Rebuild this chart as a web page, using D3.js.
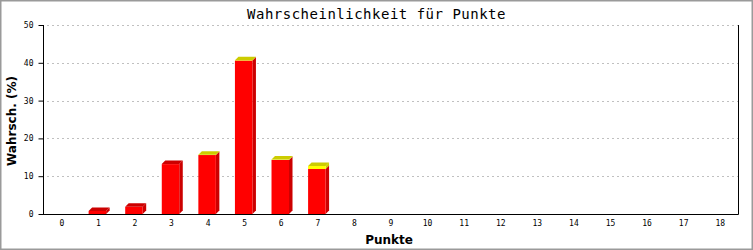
<!DOCTYPE html>
<html>
<head>
<meta charset="utf-8">
<script src="https://cdn.jsdelivr.net/npm/d3@7"></script>
<style>
  body { margin: 0; background: #fff; }
  svg { display: block; }
</style>
</head>
<body>
<div class="chart"></div>
<script>
// chart data
var categories = ["0", "1", "2", "3", "4", "5", "6", "7", "8", "9", "10", "11", "12", "13", "14", "15", "16", "17", "18"];
var redValues = [0, 0.8, 1.9, 13.2, 15.6, 40.6, 14.3, 11.9, 0, 0, 0, 0, 0, 0, 0, 0, 0, 0, 0];
var yellowValues = [0, 0, 0, 0, 0.1, 0.1, 0.1, 0.8, 0, 0, 0, 0, 0, 0, 0, 0, 0, 0, 0];
var yTicks = [0, 10, 20, 30, 40, 50];

var width = 753, height = 250;
var plot = { left: 43, right: 738, top: 25, bottom: 214 };

var svg = d3.select(".chart")
    .append("svg")
    .attr("width", width)
    .attr("height", height);

// outer frame
svg.append("rect")
    .attr("x", 0.5).attr("y", 0.5)
    .attr("width", width - 1).attr("height", height - 1)
    .attr("fill", "#fff")
    .attr("stroke", "#9a9a9a")
    .attr("stroke-width", 2);

var x = d3.scalePoint()
    .domain(categories)
    .range([plot.left, plot.right])
    .padding(0.5);

var y = d3.scaleLinear()
    .domain([0, 50])
    .range([plot.bottom, plot.top]);

// grid lines
svg.append("g")
    .selectAll("line")
    .data(yTicks.filter(function (d) { return d > 0; }))
    .enter()
    .append("line")
    .attr("x1", plot.left + 4)
    .attr("x2", plot.right)
    .attr("y1", function (d) { return Math.round(y(d)) + 0.5; })
    .attr("y2", function (d) { return Math.round(y(d)) + 0.5; })
    .attr("stroke", "#c0c0c0")
    .attr("stroke-dasharray", "2,3");

// bars (stacked, with a little 3D depth)
var barW = 17.5, depth = 3.5;
var series = [
    { values: redValues, front: "#ff0000", dark: "#cc0000" },
    { values: yellowValues, front: "#ffff00", dark: "#cccc00" }
];

var bars = svg.append("g");
categories.forEach(function (c, i) {
    var x0 = x(c) - barW / 2 - 0.5;
    var base = 0;
    var topColor = null;
    series.forEach(function (s) {
        var v = s.values[i];
        if (v <= 0) return;
        var yb = y(base), yt = y(base + v);
        // side face
        bars.append("polygon")
            .attr("points", [
                [x0 + barW, yb], [x0 + barW + depth, yb - depth],
                [x0 + barW + depth, yt - depth], [x0 + barW, yt]
            ].join(" "))
            .attr("fill", s.dark);
        // front face
        bars.append("rect")
            .attr("x", x0)
            .attr("y", yt)
            .attr("width", barW)
            .attr("height", yb - yt)
            .attr("fill", s.front);
        base += v;
        topColor = s.dark;
    });
    if (topColor) {
        var yt = y(base);
        bars.append("polygon")
            .attr("points", [
                [x0, yt], [x0 + depth, yt - depth],
                [x0 + barW + depth, yt - depth], [x0 + barW, yt]
            ].join(" "))
            .attr("fill", topColor);
    }
});

// axes
var yAxis = d3.axisLeft(y).tickValues(yTicks).tickSize(5).tickPadding(5);
var gy = svg.append("g")
    .attr("transform", "translate(" + (plot.left + 0.5) + ",0)")
    .call(yAxis);
gy.select(".domain").attr("stroke", "#000").attr("d", "M0," + plot.top + "V" + (plot.bottom + 0.5));
gy.selectAll(".tick line").attr("stroke", "#000");
gy.selectAll("text")
    .style("font-family", "'DejaVu Sans Mono', monospace")
    .style("font-size", "8px")
    .attr("fill", "#000");

var xAxis = d3.axisBottom(x).tickSize(0).tickPadding(6);
var gx = svg.append("g")
    .attr("transform", "translate(0," + (plot.bottom + 0.5) + ")")
    .call(xAxis);
gx.select(".domain").attr("stroke", "#000").attr("d", "M" + plot.left + ",0H" + (plot.right + 0.5));
gx.selectAll("text")
    .style("font-family", "'DejaVu Sans Mono', monospace")
    .style("font-size", "8px")
    .attr("fill", "#000");

// right border line
svg.append("line")
    .attr("x1", plot.right + 0.5).attr("x2", plot.right + 0.5)
    .attr("y1", plot.top).attr("y2", plot.bottom + 0.5)
    .attr("stroke", "#000");

// title and axis titles
svg.append("text")
    .attr("x", 376.5)
    .attr("y", 19)
    .attr("text-anchor", "middle")
    .style("font-family", "'DejaVu Sans Mono', monospace")
    .style("font-size", "14px")
    .style("letter-spacing", "0.5px")
    .text("Wahrscheinlichkeit für Punkte");

svg.append("text")
    .attr("transform", "translate(16,121) rotate(-90)")
    .attr("text-anchor", "middle")
    .style("font-family", "'DejaVu Sans', sans-serif")
    .style("font-weight", "bold")
    .style("font-size", "12px")
    .text("Wahrsch. (%)");

svg.append("text")
    .attr("x", 389)
    .attr("y", 244)
    .attr("text-anchor", "middle")
    .style("font-family", "'DejaVu Sans', sans-serif")
    .style("font-weight", "bold")
    .style("font-size", "12px")
    .text("Punkte");
</script>
</body>
</html>
